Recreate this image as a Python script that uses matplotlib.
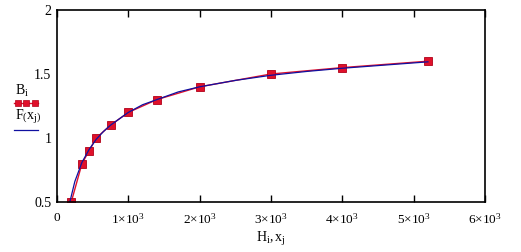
import matplotlib
matplotlib.use('Agg')
import matplotlib.pyplot as plt
from matplotlib.lines import Line2D

plt.rcParams['font.family'] = ['Liberation Serif', 'DejaVu Serif']
plt.rcParams['mathtext.fontset'] = 'custom'
plt.rcParams['mathtext.rm'] = 'Liberation Serif'
plt.rcParams['mathtext.it'] = 'Liberation Serif'

# measured points B_i at field H_i
H = [200, 350, 450, 550, 750, 1000, 1400, 2000, 3000, 4000, 5200]
B = [0.5, 0.8, 0.9, 1.0, 1.1, 1.2, 1.3, 1.4, 1.5, 1.55, 1.6]

# fitted curve F(x_j)
xj = [180, 250, 350, 450, 550, 650, 750, 1000, 1200, 1400, 1700, 2000, 2500,
      3000, 3500, 4000, 4600, 5200]
Fx = [0.5, 0.66, 0.81, 0.91, 0.99, 1.05, 1.1, 1.2, 1.26, 1.3, 1.36, 1.4, 1.45,
      1.49, 1.52, 1.545, 1.57, 1.595]

xticks = [0, 1000, 2000, 3000, 4000, 5000, 6000]
xlabels = ['0'] + [r'$%d{\times}10^{3}$' % k for k in range(1, 7)]
yticks = [0.5, 1, 1.5, 2]
ylabels = ['0.5', '1', '1.5', '2']

red = '#e0102a'
blue = '#1010a0'

fig = plt.figure(figsize=(5.21, 2.52), dpi=100)
ax = fig.add_axes([57 / 521, 50 / 252, 428 / 521, 192 / 252])

ax.plot(H, B, color=red, lw=1.0, marker='s', ms=5.8, mfc=red, mec='#b00018', mew=0.6)
ax.plot(xj, Fx, color=blue, lw=0.9)

ax.set_xlim(0, 6000)
ax.set_ylim(0.5, 2)
ax.set_xticks(xticks)
ax.set_xticklabels(xlabels, fontsize=9.5)
ax.set_yticks(yticks)
ax.set_yticklabels(ylabels, fontsize=10)
ax.tick_params(axis='x', direction='in', top=True, length=5, width=1, pad=7)
ax.tick_params(axis='y', length=0, pad=4)
for s in ax.spines.values():
    s.set_linewidth(1.2)

ax.set_xlabel(r'$\mathrm{H_i, x_j}$', fontsize=10, labelpad=3)

# legend on the left, Mathcad style
fig.text(15 / 521, 1 - 91 / 252, r'$\mathrm{B_i}$', fontsize=10, va='center')
fig.add_artist(Line2D([14 / 521, 38 / 521], [1 - 103 / 252] * 2, color=red, lw=1.0,
                      transform=fig.transFigure))
fig.add_artist(Line2D([17.8 / 521, 26.3 / 521, 34.7 / 521], [1 - 103 / 252] * 3, color=red,
                      lw=0, marker='s', ms=5.0, mfc=red, mec='#b00018', mew=0.5,
                      transform=fig.transFigure))
fig.text(15 / 521, 1 - 117 / 252, r'$\mathrm{F\left(x_j\right)}$', fontsize=10, va='center')
fig.add_artist(Line2D([14 / 521, 38 / 521], [1 - 130 / 252] * 2, color=blue, lw=0.9,
                      transform=fig.transFigure))

fig.savefig('out.png', dpi=100)
